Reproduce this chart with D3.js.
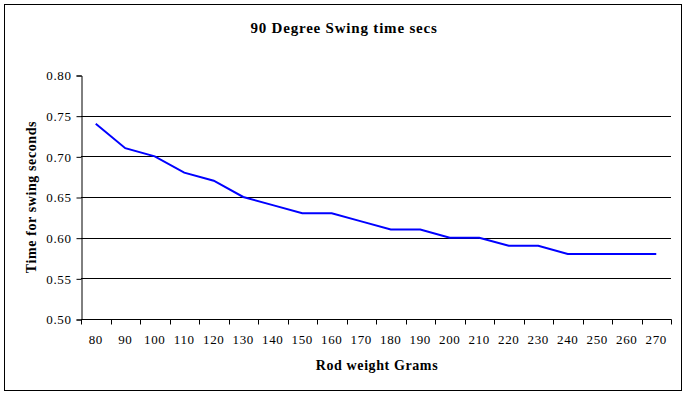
<!DOCTYPE html>
<html>
<head>
<meta charset="utf-8">
<script src="https://cdn.jsdelivr.net/npm/d3@7"></script>
<style>
  body { margin: 0; background: #fff; }
  svg text { font-family: "Liberation Serif", "Times New Roman", serif; fill: #000; }
</style>
</head>
<body>
<svg id="chart" width="688" height="396"></svg>
<script>
// rod weight (grams) vs swing time (secs)
var weights = [80, 90, 100, 110, 120, 130, 140, 150, 160, 170,
               180, 190, 200, 210, 220, 230, 240, 250, 260, 270];
var times = [0.74, 0.71, 0.70, 0.68, 0.67, 0.65, 0.64, 0.63, 0.63, 0.62,
             0.61, 0.61, 0.60, 0.60, 0.59, 0.59, 0.58, 0.58, 0.58, 0.58];
var yTicks = [0.50, 0.55, 0.60, 0.65, 0.70, 0.75, 0.80];

var svg = d3.select("#chart");

var plotLeft = 81, plotRight = 671, plotTop = 75, plotBottom = 319;

var x = d3.scaleBand()
    .domain(weights)
    .range([plotLeft, plotRight]);

var y = d3.scaleLinear()
    .domain([0.5, 0.8])
    .range([plotBottom, plotTop]);

// outer border
svg.append("rect")
    .attr("x", 4.5).attr("y", 4.5)
    .attr("width", 677).attr("height", 386)
    .attr("fill", "#fff")
    .attr("stroke", "#000");

// gridlines
svg.append("g")
  .selectAll("line")
  .data(yTicks.filter(function(d){ return d > 0.5 && d < 0.8; }))
  .enter()
  .append("line")
    .attr("x1", plotLeft).attr("x2", plotRight)
    .attr("y1", function(d){ return Math.round(y(d)) + 0.5; })
    .attr("y2", function(d){ return Math.round(y(d)) + 0.5; })
    .attr("stroke", "#000");

// y axis
var yAxis = svg.append("g")
    .attr("transform", "translate(" + (plotLeft + 0.5) + ",0.5)")
    .call(d3.axisLeft(y).tickValues(yTicks).tickFormat(d3.format(".2f"))
          .tickSize(5).tickPadding(5));
yAxis.select(".domain").attr("stroke", "#000");
yAxis.selectAll("text").attr("font-size", 13).attr("letter-spacing", 0.6);

// x axis
var xAxis = svg.append("g")
    .attr("transform", "translate(0," + (plotBottom + 0.5) + ")")
    .call(d3.axisBottom(x).tickSize(0).tickPadding(15));
xAxis.select(".domain").remove();
xAxis.selectAll("text").attr("font-size", 13).attr("letter-spacing", 0.6);
xAxis.append("line")
    .attr("x1", plotLeft).attr("x2", plotRight + 0.5)
    .attr("stroke", "#000");
xAxis.selectAll(".bt")
  .data(weights.concat(["end"]))
  .enter()
  .append("line")
    .attr("class", "bt")
    .attr("x1", function(d){ return Math.round(d === "end" ? plotRight : x(d)) + 0.5; })
    .attr("x2", function(d){ return Math.round(d === "end" ? plotRight : x(d)) + 0.5; })
    .attr("y1", 0).attr("y2", 5)
    .attr("stroke", "#000");

// line
var line = d3.line()
    .x(function(d, i){ return x(weights[i]) + x.bandwidth() / 2; })
    .y(function(d){ return y(d); });

svg.append("path")
    .datum(times)
    .attr("d", line)
    .attr("fill", "none")
    .attr("stroke", "#0000ff")
    .attr("stroke-width", 2);

// titles
svg.append("text")
    .text("90 Degree Swing time secs")
    .attr("x", 344).attr("y", 33)
    .attr("text-anchor", "middle")
    .attr("font-size", 15)
    .attr("letter-spacing", 0.8)
    .attr("font-weight", "bold");

svg.append("text")
    .text("Rod weight Grams")
    .attr("x", 377).attr("y", 370)
    .attr("text-anchor", "middle")
    .attr("font-size", 14)
    .attr("letter-spacing", 0.6)
    .attr("font-weight", "bold");

svg.append("text")
    .text("Time for swing seconds")
    .attr("transform", "translate(36,197) rotate(-90)")
    .attr("text-anchor", "middle")
    .attr("font-size", 14)
    .attr("letter-spacing", 0.6)
    .attr("font-weight", "bold");
</script>
</body>
</html>
